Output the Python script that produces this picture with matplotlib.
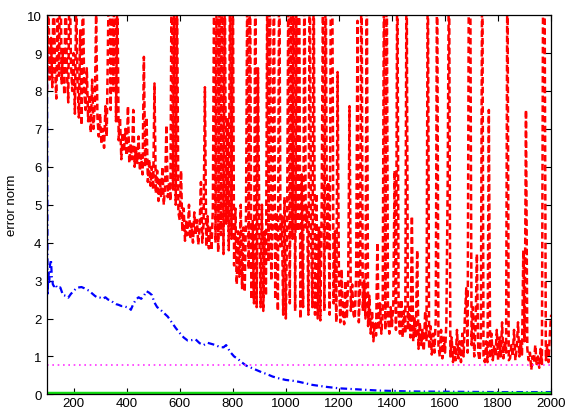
import matplotlib
matplotlib.use("Agg")
import matplotlib.pyplot as plt

plt.rcParams['font.family'] = ['Liberation Sans', 'DejaVu Sans']

# iteration axis for the noisy estimator (one sample every 5 steps)
red_x = list(range(100, 2001, 5))
red_y = [
    # 100-195
    8.0, 10.6, 8.3, 9.4, 8.1, 11.2, 8.6, 7.8, 9.9, 8.4, 12.0, 8.2, 9.1, 7.9, 10.8, 8.5, 7.7, 11.5, 8.8, 8.0,
    # 200-295
    9.0, 7.4, 10.5, 8.2, 7.3, 9.6, 7.1, 11.0, 8.0, 7.5, 8.6, 7.2, 7.9, 6.9, 8.3, 7.0, 7.6, 10.0, 7.3, 6.8,
    # 300-395
    7.4, 6.6, 7.0, 6.5, 7.6, 6.8, 9.5, 12.0, 7.5, 11.5, 8.0, 12.5, 7.2, 10.8, 6.7, 7.3, 6.2, 6.9, 6.4, 7.0,
    # 400-495
    6.3, 7.6, 6.1, 6.6, 6.2, 7.5, 6.0, 6.5, 6.1, 6.8, 5.9, 6.3, 5.8, 8.9, 6.0, 7.3, 5.6, 6.2, 5.5, 6.0,
    # 500-595
    5.4, 8.2, 5.3, 5.9, 5.1, 5.7, 5.2, 6.0, 5.0, 5.5, 7.1, 5.2, 5.6, 5.1, 12.0, 5.4, 11.5, 5.0, 10.8, 4.8,
    # 600-695
    4.6, 5.9, 4.3, 4.9, 4.05, 4.6, 4.2, 5.0, 4.1, 4.5, 4.0, 4.8, 4.2, 4.6, 3.95, 4.4, 5.6, 4.0, 4.5, 8.1,
    # 700-795
    3.9, 4.7, 3.85, 4.4, 3.8, 4.9, 11.5, 4.0, 12.5, 3.75, 10.8, 4.2, 12.0, 3.7, 11.0, 4.5, 7.3, 3.8, 12.0, 4.1,
    # 800-895
    11.8, 3.4, 4.9, 2.9, 4.3, 3.1, 5.0, 2.8, 4.4, 2.7, 4.8, 11.5, 3.3, 12.0, 2.5, 4.6, 2.4, 11.8, 2.3, 8.6,
    # 900-995
    4.4, 2.3, 5.0, 2.2, 4.3, 2.6, 11.0, 3.5, 12.0, 3.0, 4.6, 11.5, 2.5, 4.8, 2.2, 12.0, 3.9, 4.7, 2.1, 5.2,
    # 1000-1095
    2.0, 4.6, 12.0, 2.4, 11.5, 4.1, 12.5, 2.2, 11.0, 4.3, 12.0, 2.0, 5.8, 2.3, 11.8, 4.4, 5.0, 2.1, 12.0, 4.2,
    # 1100-1195
    2.3, 11.5, 2.1, 5.3, 2.0, 4.4, 1.95, 4.9, 11.0, 2.2, 12.0, 3.8, 5.6, 2.1, 12.0, 11.0, 2.4, 4.3, 1.9, 8.5,
    # 1200-1295
    3.1, 1.9, 3.3, 2.1, 1.85, 3.0, 2.0, 3.1, 7.6, 2.2, 2.9, 2.1, 2.0, 3.2, 9.85, 1.9, 2.9, 12.0, 2.2, 3.0,
    # 1300-1395
    2.0, 11.5, 1.8, 2.6, 1.6, 2.2, 1.4, 1.9, 1.55, 4.0, 1.7, 2.4, 1.6, 2.1, 11.8, 1.7, 12.0, 2.0, 1.6, 2.3,
    # 1400-1495
    1.8, 2.4, 5.9, 1.7, 12.0, 2.1, 1.6, 2.5, 1.5, 2.2, 1.6, 12.0, 1.7, 2.3, 1.5, 4.7, 1.4, 2.0, 1.5, 3.8,
    # 1500-1595
    1.2, 1.9, 1.3, 1.7, 1.15, 2.2, 1.4, 12.0, 1.2, 1.8, 1.05, 1.6, 1.1, 2.0, 12.0, 1.3, 1.0, 1.7, 0.95, 1.5,
    # 1600-1695
    1.1, 1.9, 5.7, 12.0, 1.0, 1.5, 0.85, 1.3, 0.9, 1.7, 0.95, 1.4, 0.85, 1.6, 1.0, 2.1, 2.8, 1.1, 12.0, 11.0,
    # 1700-1795
    1.3, 2.3, 1.0, 1.8, 3.7, 1.1, 0.9, 1.5, 12.0, 1.0, 0.85, 1.4, 0.85, 7.5, 0.95, 1.6, 0.9, 1.3, 1.0, 1.7,
    # 1800-1895
    0.9, 1.5, 1.0, 1.9, 0.95, 1.4, 1.1, 12.0, 0.9, 0.95, 1.3, 1.0, 1.7, 0.9, 1.2, 1.9, 1.0, 1.4, 1.05, 3.8,
    # 1900-1995
    1.4, 7.5, 1.2, 0.9, 1.1, 0.65, 1.0, 0.85, 1.3, 0.8, 1.0, 0.7, 1.2, 0.8, 12.0, 11.0, 0.9, 1.3, 0.85, 1.6,
    # 2000
    2.1,
]

# smoother estimator
blue_x = [100, 102, 105, 108, 111, 115, 118, 122, 126, 130, 135, 140, 150, 160, 170, 180, 190,
          200, 210, 220, 230, 240, 250, 260, 270, 280, 290, 300, 310, 320, 330, 340, 350,
          360, 370, 380, 390, 400, 410, 416, 425, 435, 445, 455, 465, 475, 485, 495, 505,
          515, 525, 540, 555, 570, 585, 600, 615, 630, 645, 660, 675, 690, 705, 720, 735,
          750, 765, 775, 790, 805, 820, 835, 850, 870, 890, 910, 930, 950, 975, 1000, 1025,
          1050, 1075, 1100, 1150, 1200, 1250, 1300, 1350, 1400, 1450, 1500, 1600, 1700,
          1800, 1900, 2000]
blue_y = [9.0, 2.6, 3.2, 2.9, 3.4, 3.55, 3.1, 2.9, 2.85, 2.9, 2.85, 2.8, 2.82, 2.62, 2.6, 2.55, 2.65,
          2.72, 2.8, 2.82, 2.83, 2.8, 2.76, 2.73, 2.66, 2.6, 2.55, 2.55, 2.52, 2.56, 2.5, 2.48, 2.42,
          2.38, 2.36, 2.33, 2.33, 2.3, 2.28, 2.23, 2.38, 2.5, 2.56, 2.52, 2.6, 2.72, 2.68, 2.62, 2.42,
          2.3, 2.25, 2.15, 2.05, 1.9, 1.75, 1.62, 1.5, 1.42, 1.43, 1.45, 1.35, 1.3, 1.36, 1.33, 1.3,
          1.25, 1.24, 1.3, 1.12, 1.0, 0.93, 0.84, 0.76, 0.7, 0.64, 0.58, 0.53, 0.47, 0.42, 0.38, 0.36,
          0.33, 0.29, 0.25, 0.2, 0.16, 0.14, 0.12, 0.1, 0.09, 0.08, 0.075, 0.07, 0.065,
          0.06, 0.06, 0.06]

# reference level
mag_x = [100, 2000]
mag_y = [0.77, 0.77]

# best estimator
green_x = [100, 500, 1000, 1500, 2000]
green_y = [0.03, 0.03, 0.03, 0.03, 0.03]

fig = plt.figure(figsize=(5.70, 4.14), dpi=100)
ax = fig.add_axes([0.0825, 0.045, 0.8845, 0.916])

ax.plot(red_x, red_y, color=(1, 0, 0), lw=1.8, ls=(0, (2.6, 1.3)))
ax.plot(blue_x, blue_y, color=(0, 0, 1), lw=1.6, ls=(0, (3.0, 1.5, 0.6, 1.5)))
ax.plot(mag_x, mag_y, color='#ff33ff', lw=1.2, ls=(0, (1, 2.2)))
ax.plot(green_x, green_y, color='#11dd11', lw=2.5, solid_capstyle='butt')

ax.set_xlim(100, 2000)
ax.set_ylim(0, 10)
ax.set_xticks(range(200, 2001, 200))
ax.set_yticks(range(0, 11))
ax.tick_params(direction='in', length=4, width=0.8, top=True, right=True,
               labelsize=9.5)
ax.tick_params(axis='x', pad=2)
ax.tick_params(axis='y', pad=4)
for s in ax.spines.values():
    s.set_linewidth(0.9)
ax.set_ylabel('error norm', fontsize=9.5, labelpad=6)

fig.savefig('out.png', dpi=100)
